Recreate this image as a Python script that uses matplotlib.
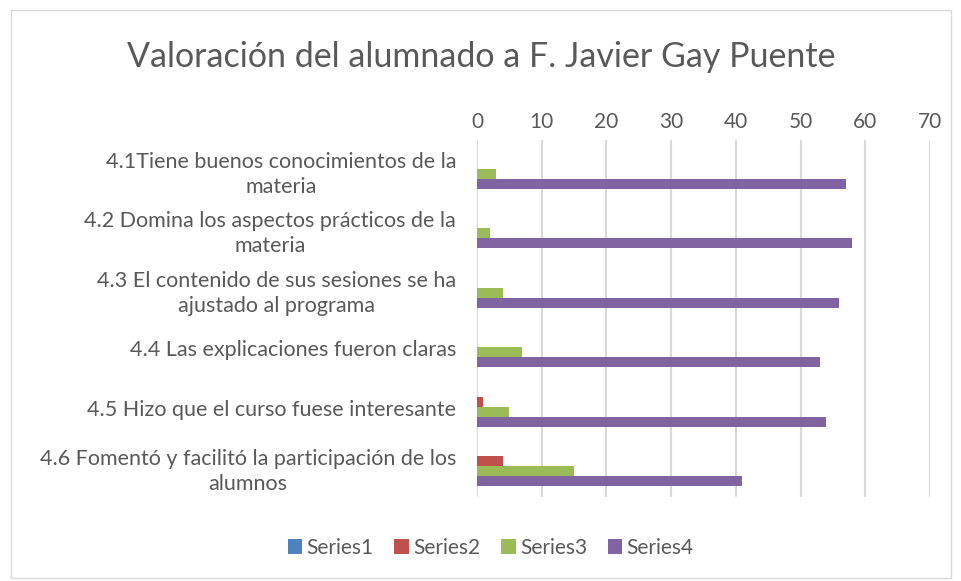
import numpy as np
import matplotlib.pyplot as plt
from matplotlib.patches import Rectangle

plt.rcParams['font.family'] = ['Lato', 'DejaVu Sans']

categories = [
    "4.1Tiene buenos conocimientos de la\nmateria",
    "4.2 Domina los aspectos prácticos de la\nmateria",
    "4.3 El contenido de sus sesiones se ha\najustado al programa",
    "4.4 Las explicaciones fueron claras",
    "4.5 Hizo que el curso fuese interesante",
    "4.6 Fomentó y facilitó la participación de los\nalumnos",
]
series_names = ["Series1", "Series2", "Series3", "Series4"]
series1 = [0, 0, 0, 0, 0, 0]
series2 = [0, 0, 0, 0, 1, 4]
series3 = [3, 2, 4, 7, 5, 15]
series4 = [57, 58, 56, 53, 54, 41]
colors = ["#4f81bd", "#c0504d", "#9bbb59", "#8064a2"]

fig = plt.figure(figsize=(9.62, 5.81), dpi=100)
ax = fig.add_axes([0.4958, 0.1446, 0.4709, 0.6144])

y = np.arange(len(categories))
h = 0.168
for i, (name, vals) in enumerate(zip(series_names, [series1, series2, series3, series4])):
    ax.barh(y + (i - 1.5) * h - 0.02, vals, height=h, color=colors[i], label=name, zorder=3)

ax.set_xlim(0, 70)
ax.set_xticks(range(0, 71, 10))
ax.set_ylim(len(categories) - 0.5, -0.5)
ax.set_yticks(y)
ax.set_yticklabels(categories, fontsize=15.5, color="#595959", linespacing=1.3,
                   multialignment="center")
ax.xaxis.tick_top()
ax.tick_params(axis="x", labelsize=15, colors="#595959", length=0, pad=6)
ax.tick_params(axis="y", length=0, pad=15)
ax.grid(axis="x", color="#d9d9d9", linewidth=1.5, zorder=0)
for s in ax.spines.values():
    s.set_visible(False)

fig.text(0.5, 0.902, "Valoración del alumnado a F. Javier Gay Puente",
         ha="center", va="center", fontsize=24.5, color="#595959")

handles, labels = ax.get_legend_handles_labels()
fig.legend(handles, labels, loc="center", bbox_to_anchor=(0.51, 0.057), ncol=4,
           frameon=False, fontsize=15, labelcolor="#595959",
           handlelength=0.7, handleheight=0.7, handletextpad=0.2, columnspacing=1.0)

fig.patches.append(Rectangle((0.011, 0.005), 0.978, 0.978, transform=fig.transFigure,
                             fill=False, edgecolor="#d9d9d9", linewidth=1))

fig.savefig("out.png", dpi=100)
